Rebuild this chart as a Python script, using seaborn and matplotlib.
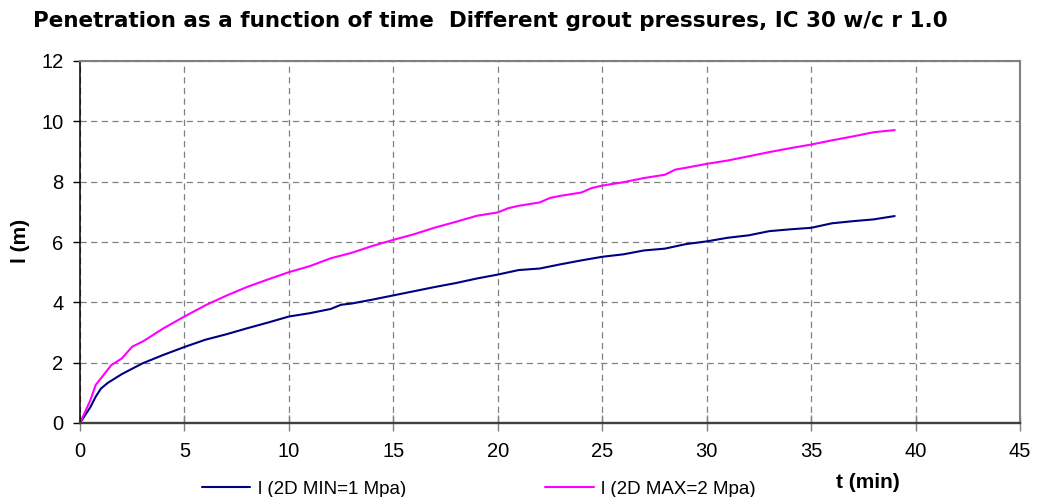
import matplotlib
matplotlib.use("Agg")
import matplotlib.pyplot as plt
import seaborn as sns
import pandas as pd

# Penetration l (m) against time t (min)
t_min = [0, 0.5, 0.75, 1.0, 1.33, 2, 3, 4, 5, 6, 7, 8, 9, 10, 11, 12, 12.5, 13, 14, 15,
         16, 17, 18, 19, 20, 21, 22, 23, 24, 25, 26, 27, 28, 29, 30, 31, 32, 33, 34,
         35, 36, 37, 38, 39]
l_min = [0, 0.53, 0.87, 1.14, 1.33, 1.62, 1.98, 2.26, 2.52, 2.76, 2.94, 3.14, 3.33, 3.53,
         3.64, 3.78, 3.92, 3.96, 4.09, 4.23, 4.37, 4.51, 4.64, 4.79, 4.92, 5.07, 5.12,
         5.26, 5.39, 5.51, 5.59, 5.72, 5.78, 5.93, 6.02, 6.14, 6.22, 6.36, 6.42, 6.47,
         6.62, 6.69, 6.75, 6.86]

t_max = [0, 0.5, 0.75, 1.0, 1.5, 2, 2.5, 3, 4, 5, 6, 7, 8, 9, 10, 11, 12, 13, 14, 15, 16,
         17, 18, 19, 20, 20.5, 21, 22, 22.5, 23, 24, 24.5, 25, 26, 27, 28, 28.5, 29, 30,
         31, 32, 33, 34, 35, 36, 37, 38, 39]
l_max = [0, 0.76, 1.26, 1.48, 1.92, 2.14, 2.53, 2.70, 3.14, 3.53, 3.90, 4.22, 4.51, 4.76,
         5.00, 5.20, 5.46, 5.64, 5.87, 6.07, 6.26, 6.48, 6.67, 6.87, 6.98, 7.12, 7.20,
         7.31, 7.46, 7.53, 7.64, 7.79, 7.87, 7.98, 8.12, 8.23, 8.40, 8.46, 8.59, 8.70,
         8.84, 8.98, 9.11, 9.23, 9.37, 9.50, 9.64, 9.71]

label_min = "l (2D MIN=1 Mpa)"
label_max = "l (2D MAX=2 Mpa)"
x_ticks = [0, 5, 10, 15, 20, 25, 30, 35, 40, 45]
y_ticks = [0, 2, 4, 6, 8, 10, 12]

sns.set_theme(style="white")
plt.rcParams["font.family"] = ["Liberation Sans", "DejaVu Sans"]
plt.rcParams["text.color"] = "black"

df_min = pd.DataFrame({"t": t_min, "l": l_min})
df_max = pd.DataFrame({"t": t_max, "l": l_max})

W, H = 1037, 497
fig = plt.figure(figsize=(W / 100, H / 100), dpi=100)
ax = fig.add_axes([80 / W, 1 - 423 / H, 940 / W, 362 / H])

sns.lineplot(data=df_min, x="t", y="l", ax=ax, color="#000080", linewidth=1.5,
             label=label_min, legend=False)
sns.lineplot(data=df_max, x="t", y="l", ax=ax, color="#FF00FF", linewidth=1.5,
             label=label_max, legend=False)

ax.set_xlim(0, 45)
ax.set_ylim(0, 12)
ax.set_xticks(x_ticks)
ax.set_yticks(y_ticks)
ax.tick_params(axis="x", labelsize=14.5, labelcolor="black", color="#808080",
               length=11, width=1, direction="inout", bottom=True, pad=8)
ax.tick_params(axis="y", labelsize=14.5, labelcolor="black", color="black",
               length=5, width=1, direction="out", left=True, pad=7)
ax.grid(True, color="#808080", linestyle=(0, (5, 3.5)), linewidth=0.9)
ax.set_axisbelow(True)

ax.spines["left"].set_color("black")
ax.spines["left"].set_linewidth(1.1)
ax.spines["bottom"].set_color("#404040")
ax.spines["bottom"].set_linewidth(1.7)
for side in ("top", "right"):
    ax.spines[side].set_color("#808080")
    ax.spines[side].set_linewidth(1.5)

ax.set_xlabel("")
ax.set_ylabel("")
fig.text(20 / W, 1 - 241 / H, "l (m)", fontsize=15, fontweight="bold",
         rotation=90, ha="center", va="center")
fig.text(868 / W, 1 - 483 / H, "t (min)", fontsize=15, fontweight="bold",
         ha="center", va="center")

fig.text(33 / W, 1 - 21 / H,
         "Penetration as a function of time  Different grout pressures, IC 30 w/c r 1.0",
         fontsize=15.5, fontweight="bold", family=["DejaVu Sans"],
         ha="left", va="center")

handles, labels = ax.get_legend_handles_labels()
fig.legend(handles, labels, loc="center left",
           bbox_to_anchor=((201 - 7) / W, 1 - 489 / H),
           ncol=2, frameon=False, fontsize=13.5, handlelength=2.6,
           columnspacing=7.4, handletextpad=0.4, borderaxespad=0)

fig.savefig("out.png", dpi=100, facecolor="white")
